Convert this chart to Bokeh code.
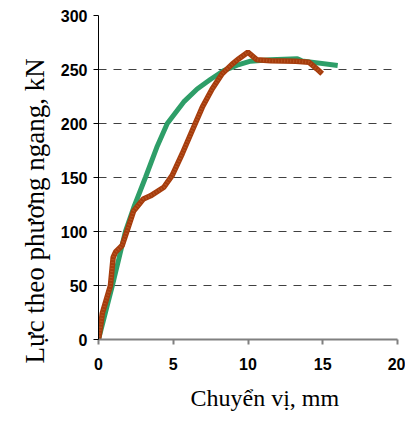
from bokeh.plotting import figure
from bokeh.models import Range1d, FixedTicker, Title
from bokeh.embed import file_html
from bokeh.resources import INLINE

# Data
green_x = [0, 0.93, 1.8, 2.35, 3.14, 3.9, 4.6, 5.7, 6.6, 7.5, 8.38, 9.28, 10.17, 11.5, 13.3, 13.6, 16.0]
green_y = [0, 50, 100, 122, 150, 178, 200, 220, 232, 241, 249, 254, 257.7, 259, 260, 258, 253.7]

red_x = [0, 0.13, 0.25, 0.8, 0.98, 1.14, 1.58, 1.92, 2.35, 3.0, 3.48, 4.37, 4.93, 5.6, 6.27, 6.94,
         7.6, 8.27, 8.94, 9.39, 9.99, 10.6, 11.5, 13.2, 14.07, 14.6, 14.96]
red_y = [0, 11, 24, 50, 76, 81, 87, 101, 119, 130, 133, 141, 152, 172, 193.5, 215,
         232, 246, 255, 260, 266, 259, 258, 257.7, 256.8, 250.6, 246]

x_ticks = [0, 5, 10, 15, 20]
y_ticks = [0, 50, 100, 150, 200, 250, 300]
x_title = "Chuyển vị, mm"
y_title = "Lực theo phương ngang, kN"

p = figure(width=405, height=421, output_backend="svg", toolbar_location=None,
           x_range=Range1d(0, 20), y_range=Range1d(0, 300),
           min_border_left=98, min_border_right=8, min_border_top=15, min_border_bottom=82)
p.outline_line_color = None
p.background_fill_color = "white"

p.xgrid.grid_line_color = None
p.ygrid.ticker = FixedTicker(ticks=y_ticks)
p.ygrid.grid_line_color = "#404040"
p.ygrid.grid_line_dash = "8 7"
p.ygrid.grid_line_width = 1

p.xaxis.ticker = FixedTicker(ticks=x_ticks)
p.yaxis.ticker = FixedTicker(ticks=y_ticks)
for ax in (p.xaxis, p.yaxis):
    ax.minor_tick_line_color = None
    ax.major_tick_in = 0
    ax.major_tick_out = 5
    ax.major_label_text_font = "Liberation Sans"
    ax.major_label_text_font_style = "bold"
    ax.major_label_text_font_size = "16px"
    ax.major_label_text_color = "black"
p.xaxis.axis_line_color = "#808080"
p.xaxis.axis_line_width = 2
p.xaxis.major_tick_line_color = "#808080"
p.xaxis.major_tick_line_width = 2
p.xaxis.major_label_standoff = 13
p.yaxis.axis_line_color = "black"
p.yaxis.major_tick_line_color = "black"
p.yaxis.major_label_standoff = 6

p.line(green_x, green_y, line_color="#2e9e68", line_width=5)
p.line(red_x, red_y, line_color="#a63c0c", line_width=5.5)
p.line(red_x, red_y, line_color="#c8703c", line_width=3, line_alpha=0.5, line_dash="1 2")

p.add_layout(Title(text=x_title, align="left", offset=92, standoff=20,
                   text_font="Liberation Serif", text_font_size="24px",
                   text_font_style="normal", text_color="black"), "below")
p.add_layout(Title(text=y_title, align="left", offset=-24, standoff=15,
                   text_font="Liberation Serif", text_font_size="27px",
                   text_font_style="normal", text_color="black"), "left")

open("out.html", "w").write(file_html(p, INLINE))
